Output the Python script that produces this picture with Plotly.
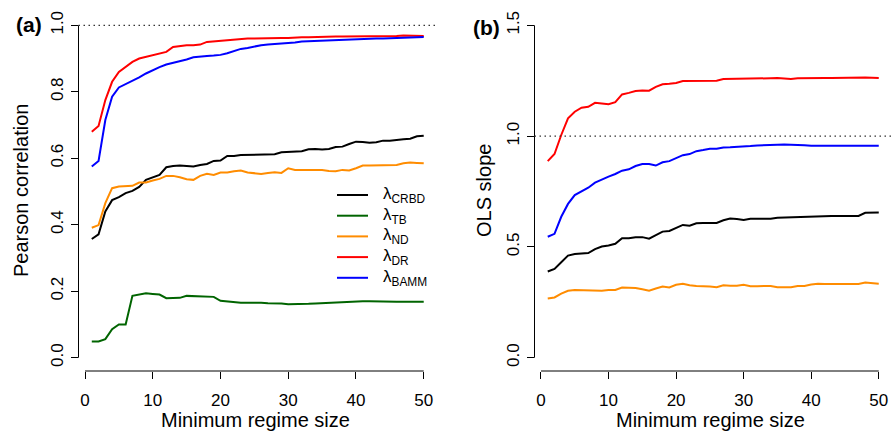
import plotly.graph_objects as go

regime_size = list(range(1, 51))

# Panel (a): Pearson correlation
pearson_crbd = [0.357, 0.371, 0.440, 0.474, 0.483, 0.495, 0.502, 0.514, 0.535, 0.543,
                0.550, 0.573, 0.577, 0.578, 0.577, 0.575, 0.580, 0.583, 0.592, 0.593,
                0.607, 0.607, 0.610, 0.610, 0.611, 0.611, 0.610, 0.612, 0.618, 0.619,
                0.619, 0.621, 0.627, 0.628, 0.626, 0.628, 0.634, 0.635, 0.643, 0.650,
                0.649, 0.647, 0.648, 0.653, 0.653, 0.654, 0.657, 0.659, 0.666, 0.668]
pearson_tb = [0.049, 0.049, 0.056, 0.086, 0.100, 0.100, 0.186, 0.191, 0.194, 0.192,
              0.190, 0.179, 0.179, 0.180, 0.186, 0.185, 0.184, 0.183, 0.183, 0.171,
              0.169, 0.165, 0.165, 0.165, 0.166, 0.165, 0.164, 0.164, 0.163, 0.161,
              0.161, 0.160, 0.162, 0.163, 0.164, 0.165, 0.168, 0.168, 0.169, 0.170,
              0.170, 0.170, 0.169, 0.169, 0.168, 0.168, 0.168, 0.169, 0.168, 0.168]
pearson_nd = [0.391, 0.399, 0.465, 0.510, 0.515, 0.517, 0.517, 0.527, 0.527, 0.533,
              0.538, 0.547, 0.547, 0.543, 0.537, 0.535, 0.547, 0.553, 0.550, 0.557,
              0.557, 0.561, 0.563, 0.557, 0.555, 0.553, 0.556, 0.558, 0.556, 0.570,
              0.565, 0.565, 0.566, 0.567, 0.565, 0.562, 0.561, 0.565, 0.563, 0.570,
              0.578, 0.578, 0.579, 0.579, 0.580, 0.580, 0.585, 0.587, 0.586, 0.585]
pearson_dr = [0.680, 0.697, 0.775, 0.830, 0.860, 0.876, 0.890, 0.900, 0.905, 0.909,
              0.915, 0.920, 0.935, 0.938, 0.940, 0.940, 0.942, 0.950, 0.952, 0.953,
              0.956, 0.958, 0.959, 0.960, 0.960, 0.961, 0.961, 0.961, 0.962, 0.962,
              0.964, 0.964, 0.964, 0.965, 0.965, 0.966, 0.966, 0.966, 0.966, 0.967,
              0.967, 0.967, 0.967, 0.968, 0.968, 0.968, 0.969, 0.969, 0.968, 0.968]
pearson_bamm = [0.575, 0.592, 0.715, 0.785, 0.813, 0.823, 0.832, 0.843, 0.855, 0.865,
                0.874, 0.882, 0.887, 0.891, 0.897, 0.904, 0.907, 0.908, 0.909, 0.911,
                0.916, 0.923, 0.929, 0.932, 0.937, 0.940, 0.942, 0.943, 0.944, 0.945,
                0.948, 0.951, 0.952, 0.953, 0.954, 0.955, 0.956, 0.957, 0.957, 0.958,
                0.958, 0.959, 0.960, 0.960, 0.961, 0.962, 0.963, 0.964, 0.964, 0.965]

# Panel (b): OLS slope
ols_crbd = [0.389, 0.401, 0.431, 0.461, 0.468, 0.469, 0.472, 0.490, 0.502, 0.506,
            0.514, 0.539, 0.539, 0.544, 0.544, 0.537, 0.554, 0.569, 0.572, 0.584,
            0.599, 0.596, 0.607, 0.608, 0.608, 0.608, 0.620, 0.628, 0.626, 0.622,
            0.627, 0.626, 0.628, 0.627, 0.632, 0.633, 0.634, 0.638, 0.638, 0.638,
            0.639, 0.640, 0.640, 0.640, 0.640, 0.640, 0.640, 0.654, 0.655, 0.655]
ols_nd = [0.267, 0.272, 0.289, 0.302, 0.306, 0.305, 0.304, 0.302, 0.302, 0.306,
          0.306, 0.317, 0.316, 0.315, 0.309, 0.302, 0.312, 0.321, 0.317, 0.329,
          0.334, 0.327, 0.324, 0.324, 0.321, 0.318, 0.327, 0.325, 0.325, 0.329,
          0.323, 0.323, 0.324, 0.324, 0.318, 0.318, 0.318, 0.324, 0.324, 0.330,
          0.334, 0.333, 0.333, 0.333, 0.333, 0.333, 0.333, 0.339, 0.338, 0.334]
ols_dr = [0.887, 0.919, 1.005, 1.080, 1.110, 1.128, 1.132, 1.150, 1.147, 1.144,
          1.153, 1.188, 1.195, 1.203, 1.206, 1.205, 1.222, 1.234, 1.236, 1.240,
          1.249, 1.249, 1.248, 1.249, 1.250, 1.250, 1.258, 1.258, 1.259, 1.260,
          1.258, 1.260, 1.260, 1.261, 1.262, 1.261, 1.258, 1.261, 1.262, 1.262,
          1.262, 1.262, 1.262, 1.263, 1.263, 1.263, 1.263, 1.264, 1.263, 1.262]
ols_bamm = [0.546, 0.559, 0.636, 0.694, 0.734, 0.752, 0.767, 0.790, 0.805, 0.817,
            0.829, 0.844, 0.850, 0.865, 0.874, 0.874, 0.867, 0.882, 0.887, 0.899,
            0.914, 0.919, 0.932, 0.937, 0.943, 0.943, 0.949, 0.950, 0.951, 0.952,
            0.955, 0.958, 0.960, 0.960, 0.961, 0.962, 0.962, 0.960, 0.959, 0.956,
            0.956, 0.956, 0.956, 0.956, 0.956, 0.956, 0.956, 0.956, 0.956, 0.956]

names = ["λ<sub>CRBD</sub>", "λ<sub>TB</sub>", "λ<sub>ND</sub>", "λ<sub>DR</sub>", "λ<sub>BAMM</sub>"]
colors = ["#000000", "#006400", "#FF8C00", "#FF0000", "#0000FF"]

FONT = "Liberation Sans, Arial, Helvetica, sans-serif"

fig = go.Figure()

series_a = [pearson_crbd, pearson_tb, pearson_nd, pearson_dr, pearson_bamm]
for name, col, vals in zip(names, colors, series_a):
    fig.add_trace(go.Scatter(x=regime_size, y=vals, mode="lines", name=name,
                             line=dict(color=col, width=2), xaxis="x", yaxis="y",
                             showlegend=False))

series_b = [ols_crbd, ols_nd, ols_dr, ols_bamm]
names_b = [names[0], names[2], names[3], names[4]]
colors_b = [colors[0], colors[2], colors[3], colors[4]]
for name, col, vals in zip(names_b, colors_b, series_b):
    fig.add_trace(go.Scatter(x=regime_size, y=vals, mode="lines", name=name,
                             line=dict(color=col, width=2), xaxis="x2", yaxis="y2",
                             showlegend=False))

W, H = 892, 432
xa_dom = [78.5 / W, 437 / W]
xb_dom = [534.5 / W, 1.0]
y_dom = [(H - 371) / H, (H - 12) / H]

tickfont = dict(family=FONT, size=17, color="black")
common_x = dict(range=[-0.96, 51.96], tickvals=[0, 10, 20, 30, 40, 50],
                showgrid=False, zeroline=False, showline=False, automargin=False,
                ticks="outside", ticklen=7, tickwidth=1, tickcolor="black",
                tickfont=tickfont, ticklabelstandoff=7)
common_y = dict(showgrid=False, zeroline=False, showline=False, automargin=False,
                ticks="outside", ticklen=7, tickwidth=1, tickcolor="black",
                tickfont=tickfont, tickangle=-90, tickformat=".1f",
                ticklabelstandoff=1)

fig.update_layout(
    width=W, height=H,
    margin=dict(l=0, r=0, t=0, b=0, pad=0, autoexpand=False),
    plot_bgcolor="white", paper_bgcolor="white",
    font=dict(family=FONT, color="black"),
    xaxis=dict(domain=xa_dom, anchor="y", **common_x),
    yaxis=dict(domain=y_dom, anchor="x", range=[-0.04, 1.04],
               tickvals=[0, 0.2, 0.4, 0.6, 0.8, 1.0], **common_y),
    xaxis2=dict(domain=xb_dom, anchor="y2", **common_x),
    yaxis2=dict(domain=y_dom, anchor="x2", range=[-0.06, 1.56],
                tickvals=[0, 0.5, 1.0, 1.5], **common_y),
    showlegend=False,
)

shapes = []
for xr, yr, ytop in [("x", "y", 1.0), ("x2", "y2", 1.5)]:
    shapes.append(dict(type="line", xref=xr, yref=yr + " domain", x0=0, x1=50, y0=0, y1=0,
                       line=dict(color="black", width=1)))
    shapes.append(dict(type="line", xref=xr + " domain", yref=yr, x0=0, x1=0, y0=0, y1=ytop,
                       line=dict(color="black", width=1)))
for xr, yr in [("x", "y"), ("x2", "y2")]:
    shapes.append(dict(type="line", xref=xr + " domain", yref=yr, x0=0, x1=1, y0=1.0, y1=1.0,
                       line=dict(color="#333333", width=1.2, dash="1.5px,3.5px")))

annotations = [
    dict(text="<b>(a)</b>", x=29 / W, y=(H - 25) / H),
    dict(text="<b>(b)</b>", x=487 / W, y=(H - 27) / H),
    dict(text="Pearson correlation", x=21 / W, y=(H - 191) / H, textangle=-90),
    dict(text="OLS slope", x=484 / W, y=(H - 191) / H, textangle=-90),
    dict(text="Minimum regime size", x=255 / W, y=(H - 420) / H),
    dict(text="Minimum regime size", x=710 / W, y=(H - 420) / H),
]
for a in annotations:
    a.update(xref="paper", yref="paper", showarrow=False, xanchor="center", yanchor="middle",
             font=dict(family=FONT, size=21 if a["text"].startswith("<b>") else 20, color="black"))

# Legend for panel (a), drawn as in the original (line sample + label)
leg_x0, leg_x1, leg_tx, leg_y0, leg_dy = 337, 368, 381, 195, 20.7
for i, (name, col) in enumerate(zip(names, colors)):
    yy = (H - (leg_y0 + i * leg_dy)) / H
    shapes.append(dict(type="line", xref="paper", yref="paper", x0=leg_x0 / W, x1=leg_x1 / W,
                       y0=yy, y1=yy, line=dict(color=col, width=2)))
    annotations.append(dict(text=name, x=leg_tx / W, y=yy, xref="paper", yref="paper",
                            showarrow=False, xanchor="left", yanchor="middle",
                            font=dict(family=FONT, size=17, color="black")))

fig.update_layout(shapes=shapes, annotations=annotations)

fig.write_html("out.html", config={"displayModeBar": False},
               post_script="document.body.style.margin='0';document.body.style.overflow='hidden';")
